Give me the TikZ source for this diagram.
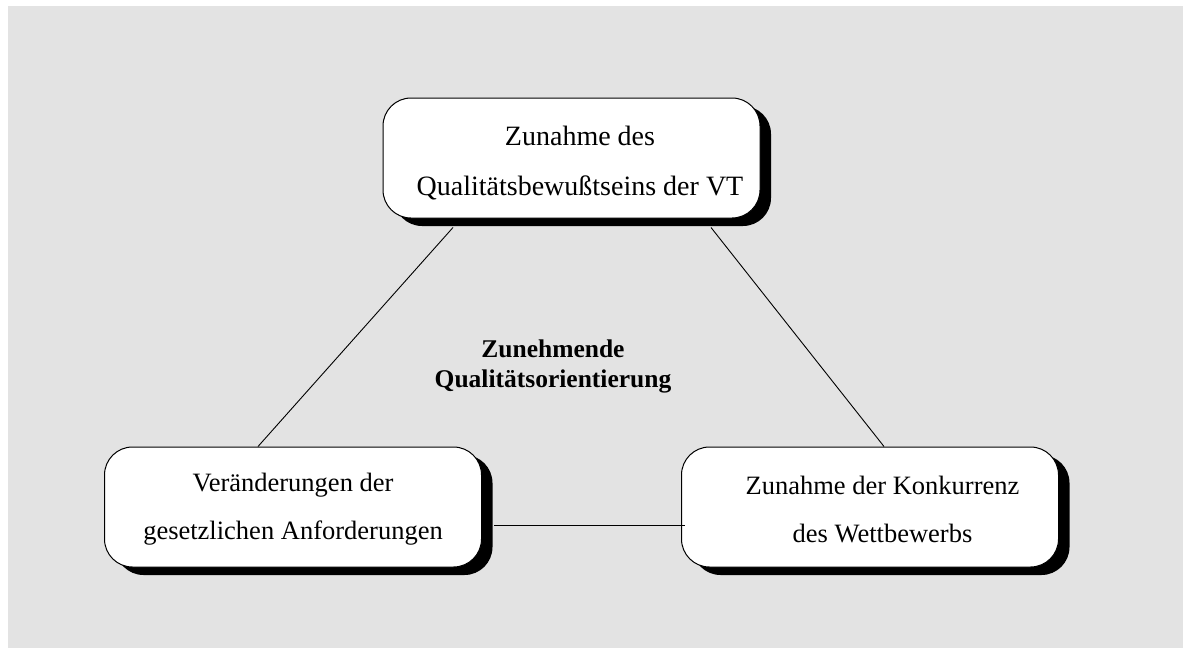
\documentclass[tikz,border=0pt]{standalone}
\usepackage{fontspec}
\setmainfont{Liberation Serif}
\usetikzlibrary{calc}
\definecolor{panel}{HTML}{E3E3E3}
\begin{document}
\begin{tikzpicture}[x=1pt,y=-1pt,
  box/.style={draw=black, line width=1pt, fill=white, rounded corners=28pt,
    minimum width=377pt, minimum height=120pt, inner sep=0pt},
  boxshadow/.style={fill=black, rounded corners=28pt,
    minimum width=377pt, minimum height=120pt, inner sep=0pt},
  boxtext/.style={align=center, inner sep=0pt, font=\fontsize{26.5}{48}\selectfont},
  centertext/.style={align=center, inner sep=0pt, font=\fontsize{25.5}{30}\selectfont\bfseries},
  link/.style={draw=black, line width=0.9pt}]
\useasboundingbox (0,0) rectangle (1183,648);
\fill[panel] (8,6) rectangle (1183,648);

% shadows behind the three boxes
\node[boxshadow] (topshadow)   at (582.5,166) {};
\node[boxshadow] (leftshadow)  at (304,515) {};
\node[boxshadow] (rightshadow) at (881,515) {};

% the three boxes
\node[box] (topbox)   at (571.5,158) {};
\node[box] (leftbox)  at (293,507) {};
\node[box] (rightbox) at (870,507) {};

% box captions
\node[boxtext, font=\fontsize{28}{50}\selectfont] (toptext) at (580,163)
  {Zunahme des\\Qualitätsbewußtseins der VT};
\node[boxtext] (lefttext) at (293,509)
  {Veränderungen der\\gesetzlichen Anforderungen};
\node[boxtext] (righttext) at (882.5,509)
  {Zunahme der Konkurrenz\\des Wettbewerbs};

% central caption
\node[centertext] (center) at (553,366) {Zunehmende\\Qualitätsorientierung};

% connecting lines
\draw[link] ($(topbox.south)+(-118.5,9)$) -- ($(leftbox.north)+(-35,0)$);
\draw[link] ($(topbox.south)+(139.5,9)$) -- ($(rightbox.north)+(14,0)$);
\draw[link] ($(leftbox.east)+(12,18)$) -- ($(rightbox.west)+(4,18)$);
\end{tikzpicture}
\end{document}
